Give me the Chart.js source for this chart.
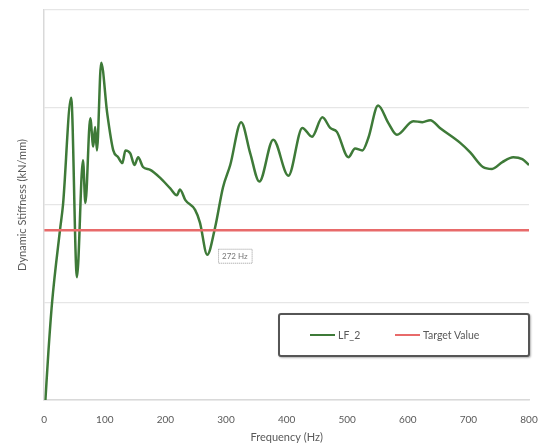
<!DOCTYPE html>
<html>
<head>
  <meta charset="utf-8">
  <title>Dynamic Stiffness LF_2</title>
  <script src="https://cdn.jsdelivr.net/npm/chart.js"></script>
  <style>
    body { margin: 0; background: #fff; font-family: Lato, "Open Sans", sans-serif; }
    .wrap { position: relative; width: 546px; height: 445px; }
    /* legend box sits inside the plot area, lower right */
    .legend {
      position: absolute; left: 278px; top: 313px; width: 248px; height: 40px;
      border: 2px solid #555; border-radius: 3px; background: #fff;
      box-shadow: 1px 1px 2px rgba(0,0,0,0.3);
      font-size: 10.5px; color: #595959;
    }
    .legend .item { position: absolute; top: 14px; display: flex; align-items: center; }
    .legend .sw { width: 25px; height: 2px; margin-right: 3px; }
  </style>
</head>
<body>
  <div class="wrap">
    <canvas id="c" width="546" height="445"></canvas>
    <div class="legend">
      <div class="item" style="left:30px"><span class="sw" style="background:#3e7a38"></span>LF_2</div>
      <div class="item" style="left:115px"><span class="sw" style="background:#e86a6a"></span>Target Value</div>
    </div>
  </div>

  <script>
    // values (y in arbitrary kN/mm units, gridlines every 10)
    const freqs = [2, 7, 13, 26, 31, 44.5, 54, 64, 68, 76, 81, 84, 87, 94, 104, 114, 122, 129, 134, 142,
      149, 155, 163, 175, 191, 208, 219, 224, 233, 249, 257, 269, 282, 295, 307, 325, 340, 355, 378,
      403, 426, 442, 459, 472, 483, 502, 513, 525, 535, 551, 568, 582, 609, 624, 637, 653, 686, 703,
      724, 739, 756, 774, 789, 800];
    const stiffness = [0, 5, 10, 17.4, 20, 31, 12.6, 24.6, 20.2, 28.9, 26, 28, 25.6, 34.6, 29.4, 25.6,
      24.9, 24.3, 25.6, 25.3, 24.1, 24.9, 23.9, 23.6, 22.8, 21.7, 21.0, 21.6, 20.5, 19.5, 18.2, 14.9,
      17.7, 21.8, 24.1, 28.5, 25.3, 22.4, 26.7, 23.0, 27.9, 27.0, 29.0, 27.9, 27.5, 24.9, 25.8, 25.6,
      26.9, 30.2, 28.4, 27.2, 28.6, 28.5, 28.7, 27.9, 26.4, 25.4, 23.9, 23.7, 24.4, 24.9, 24.7, 24.1];
    const targetFreqs = [0, 800];
    const targetValues = [17.4, 17.4];
    const xTicks = [0, 100, 200, 300, 400, 500, 600, 700, 800];
    const minFreq = 272;
    const minLabel = '272 Hz';

    // little dotted callout next to the dip
    const callout = {
      id: 'callout',
      afterDatasetsDraw(chart) {
        const { ctx, scales } = chart;
        const px = scales.x.getPixelForValue(minFreq) + 9;
        const py = scales.y.getPixelForValue(14.9) - 6;
        ctx.save();
        ctx.font = '8px Lato, sans-serif';
        const w = ctx.measureText(minLabel).width + 8;
        ctx.fillStyle = '#fff';
        ctx.fillRect(px, py, w, 14);
        ctx.setLineDash([1, 1]);
        ctx.strokeStyle = '#999';
        ctx.strokeRect(px + 0.5, py + 0.5, w, 14);
        ctx.fillStyle = '#777';
        ctx.textBaseline = 'middle';
        ctx.fillText(minLabel, px + 4, py + 8);
        ctx.restore();
      }
    };

    new Chart(document.getElementById('c'), {
      type: 'line',
      data: {
        datasets: [
          {
            label: 'Target Value',
            data: targetFreqs.map((f, i) => ({ x: f, y: targetValues[i] })),
            borderColor: '#e86a6a',
            borderWidth: 2.5,
            pointRadius: 0
          },
          {
            label: 'LF_2',
            data: freqs.map((f, i) => ({ x: f, y: stiffness[i] })),
            borderColor: '#3e7a38',
            borderWidth: 2.5,
            pointRadius: 0,
            cubicInterpolationMode: 'monotone'
          }
        ]
      },
      options: {
        responsive: false,
        animation: false,
        layout: { padding: { top: 10, right: 17, left: 12, bottom: 0 } },
        plugins: { legend: { display: false }, tooltip: { enabled: false } },
        scales: {
          x: {
            type: 'linear', min: 0, max: 800,
            afterBuildTicks: axis => { axis.ticks = xTicks.map(v => ({ value: v })); },
            grid: { display: false },
            border: { color: '#d9d9d9', width: 1.5 },
            ticks: { color: '#595959', font: { family: 'Lato', size: 10, lineHeight: 1 }, padding: 7, maxRotation: 0 },
            title: { display: true, text: 'Frequency (Hz)', color: '#595959', font: { family: 'Lato', size: 11, lineHeight: 1 }, padding: { top: 0, bottom: 2 } }
          },
          y: {
            min: 0, max: 40,
            ticks: { stepSize: 10, display: false },
            grid: { color: '#e6e6e6', lineWidth: 1.2, drawTicks: false },
            border: { color: '#d9d9d9', width: 1.5 },
            title: { display: true, text: 'Dynamic Stiffness (kN/mm)', color: '#595959', font: { family: 'Lato', size: 11 }, padding: { bottom: 15 } }
          }
        }
      },
      plugins: [callout]
    });
  </script>
</body>
</html>
